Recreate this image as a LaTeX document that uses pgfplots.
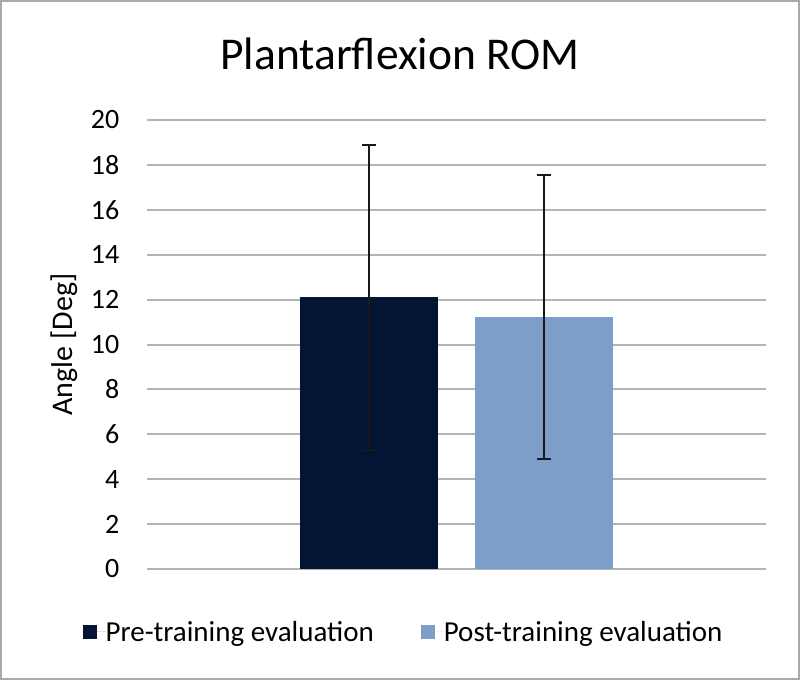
\documentclass[border=0pt]{standalone}
\usepackage{fontspec}
\setmainfont{Carlito}
\usepackage{pgfplots}
\pgfplotsset{compat=1.18}

\definecolor{prenavy}{RGB}{4,20,52}
\definecolor{postblue}{RGB}{124,158,200}
\definecolor{gridgray}{RGB}{180,180,180}
\definecolor{framegray}{RGB}{170,170,170}

\newcommand{\fs}[1]{\fontsize{#1}{1.2\dimexpr#1\relax}\selectfont}

\begin{document}
\begin{tikzpicture}
% frame of the chart, in pixel-like units (origin top left)
\useasboundingbox (0bp,0bp) rectangle (800bp,-680bp);
\draw[framegray, line width=2bp] (1bp,-1bp) rectangle (799bp,-679bp);

\node[anchor=base, font=\fs{45.5bp}] at (400bp,-69bp) {Plantarflexion ROM};

\begin{axis}[
  at={(147bp,-569bp)}, anchor=south west,
  scale only axis,
  width=619bp, height=449bp,
  xmin=0, xmax=1,
  ymin=0, ymax=20,
  ytick={0,2,...,20},
  xtick=\empty,
  ymajorgrids,
  grid style={gridgray, line width=2bp},
  axis line style={draw=none},
  major tick length=0pt,
  /pgf/number format/assume math mode=true,
  yticklabel style={font=\fs{28bp}, anchor=east, inner sep=0pt, xshift=-27.5bp},
  ylabel={Angle [Deg]},
  ylabel style={font=\fs{30bp}, at={(axis description cs:-0.1204,0.5)}, anchor=base},
  ybar=37bp, bar width=138bp,
  legend columns=2,
  legend style={draw=none, font=\fs{29bp}, at={(axis description cs:0.4128,-0.140)},
    anchor=center, inner sep=0pt,
    nodes={inner sep=0pt},
    /tikz/every even column/.append style={column sep=47bp}},
  legend image code/.code={\fill[#1] (0bp,-7bp) rectangle (14bp,7bp);
    \path (0bp,0bp) -- (23bp,0bp);},
  error bars/error bar style={black!90, line width=2bp},
  error bars/error mark options={black!90, line width=2bp, mark size=7.3bp, rotate=90},
]
  \addplot[fill=prenavy, draw=none,
    error bars/.cd, y dir=both, y explicit]
    coordinates {(0.5,12.10) +- (0,6.79)};
  \addlegendentry{Pre-training evaluation}

  \addplot[fill=postblue, draw=none,
    error bars/.cd, y dir=both, y explicit]
    coordinates {(0.5,11.21) +- (0,6.33)};
  \addlegendentry{Post-training evaluation}
\end{axis}
\end{tikzpicture}
\end{document}
